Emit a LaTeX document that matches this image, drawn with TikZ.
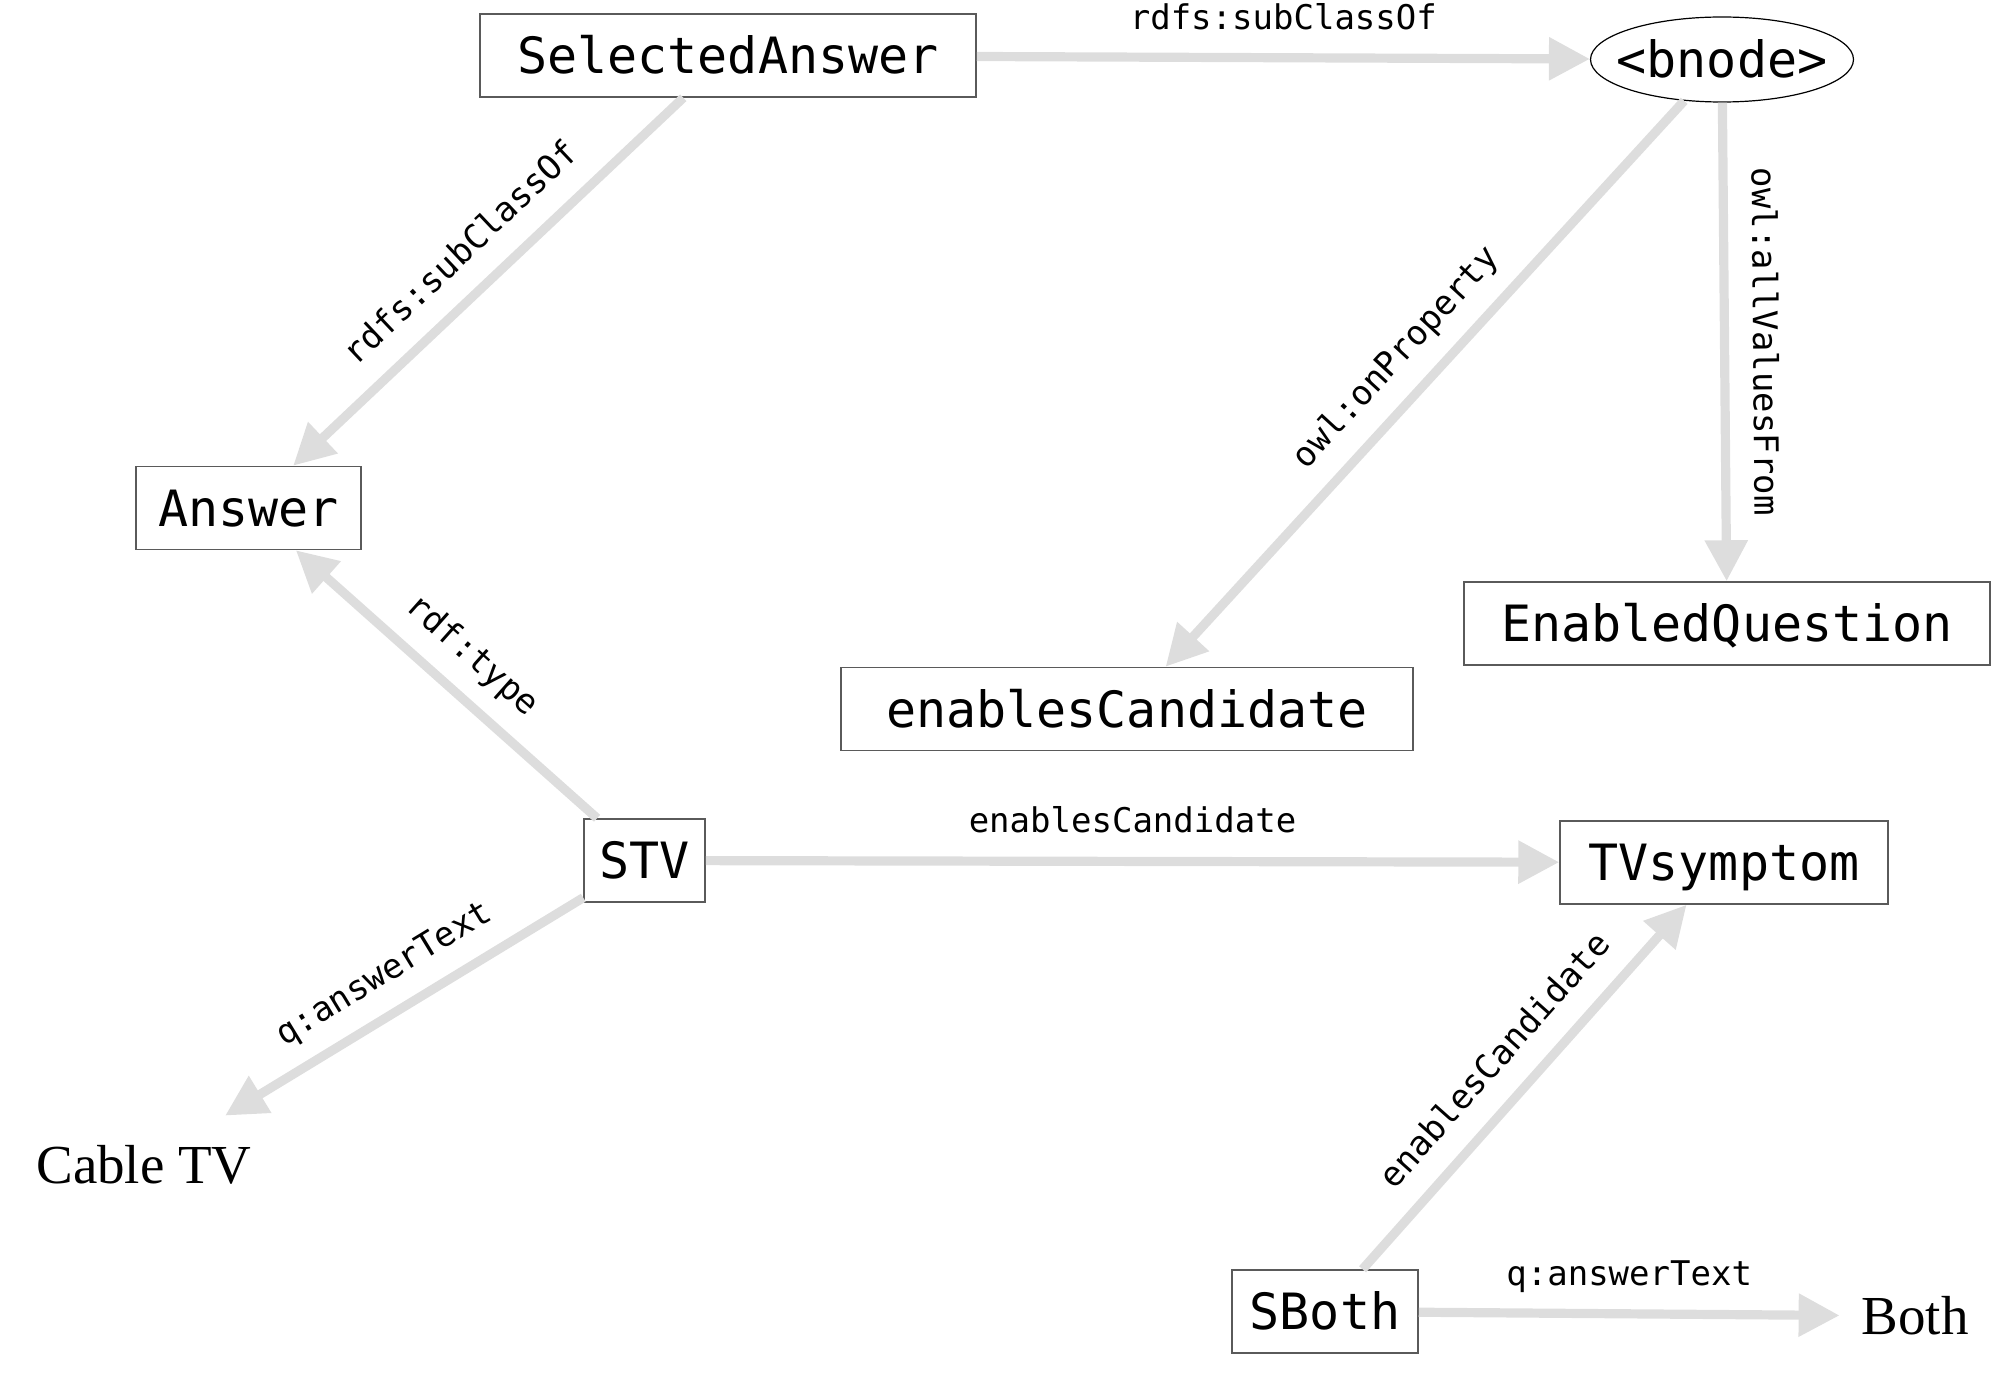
\documentclass[tikz,border=0pt]{standalone}
\usepackage{fontspec}
\usetikzlibrary{arrows.meta,shapes.geometric}
\newfontfamily\monofont{DejaVu Sans Mono}
\newfontfamily\serifx{Liberation Serif}
\definecolor{edgegray}{RGB}{221,221,221}
\definecolor{boxgray}{RGB}{90,90,90}
\tikzset{
  box/.style={draw=boxgray, line width=0.75pt, rectangle, inner sep=0pt,
    font=\monofont\fontsize{25pt}{30pt}\selectfont, text height=18.2pt, text depth=0pt,
    minimum height=41.5pt},
  oval/.style={draw=black, line width=0.6pt, ellipse, inner sep=0pt,
    font=\monofont\fontsize{25pt}{30pt}\selectfont, text height=18.2pt, text depth=0pt},
  plain/.style={inner sep=0pt, font=\serifx\fontsize{27.5pt}{33pt}\selectfont,
    text height=18.2pt, text depth=0pt},
  edge/.style={draw=edgegray, line width=4.6pt,
    -{Triangle[length=20.5pt,width=20.5pt]}},
  lab/.style={inner sep=0pt, font=\monofont\fontsize{17pt}{20pt}\selectfont,
    text height=12.75pt, text depth=4.25pt, text=black, above=7.75pt},
  slab/.style={lab, sloped}
}
\begin{document}
\begin{tikzpicture}[x=0.5pt, y=-0.5pt]
\useasboundingbox (0,0) rectangle (2000,1380);
\node[box, minimum width=248pt] (SA) at (728,55.5) {SelectedAnswer};
\node[oval, minimum width=131.5pt, minimum height=42.5pt] (bn) at (1722,59.5) {\makebox[0pt]{<bnode>}};
\node[box, minimum width=112.5pt] (ans) at (248.5,508) {Answer};
\node[box, minimum width=263pt] (EQ) at (1727,623.5) {EnabledQuestion};
\node[box, minimum width=286pt] (EC) at (1127,709) {enablesCandidate};
\node[box, minimum width=60.5pt] (stv) at (644.5,860.5) {STV};
\node[box, minimum width=164pt] (tvs) at (1724,862.5) {TVsymptom};
\node[box, minimum width=93pt] (sb) at (1325,1311.5) {SBoth};
\node[plain, minimum height=49pt] (ctv) at (144,1165) {Cable TV};
\node[plain, minimum width=75pt] (both) at (1915,1316) {Both};

\draw[edge] (SA) -- node[lab] {rdfs:subClassOf} (bn);
\draw[edge] (SA) -- node[slab] {rdfs:subClassOf} (ans);
\draw[edge] (bn) -- node[slab] {owl:onProperty} (EC);
\draw[edge] (bn) -- node[slab] {owl:allValuesFrom} (EQ);
\draw[edge] (stv) -- node[slab] {rdf:type} (ans);
\draw[edge] (stv) -- node[lab] {enablesCandidate} (tvs);
\draw[edge] (stv) -- node[slab] {q:answerText} (ctv);
\draw[edge] (sb) -- node[slab] {enablesCandidate} (tvs);
\draw[edge] (sb) -- node[lab] {q:answerText} (both);
\end{tikzpicture}
\end{document}
